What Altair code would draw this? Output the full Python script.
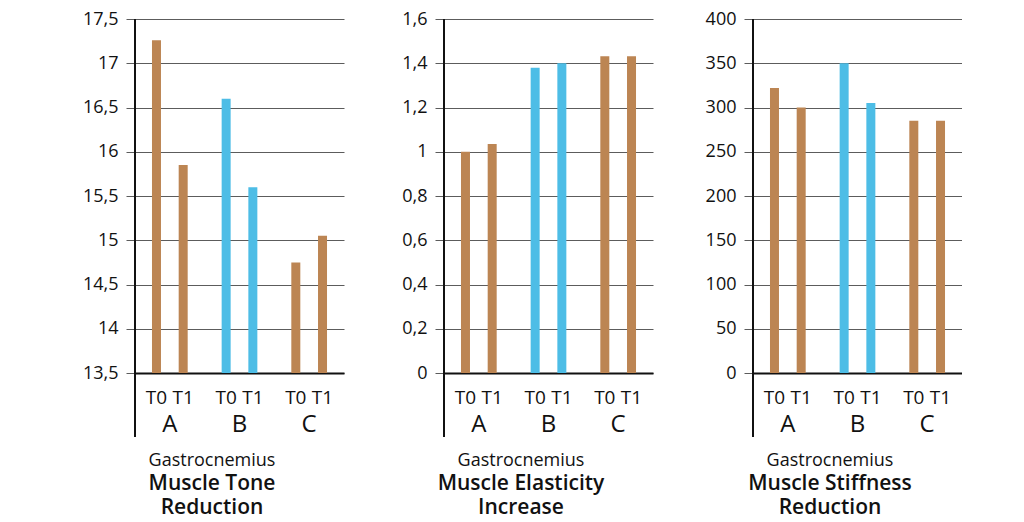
import altair as alt
import pandas as pd

# ---- data ----
groups = ["A", "A", "B", "B", "C", "C"]
times = ["T0", "T1", "T0", "T1", "T0", "T1"]
tone = [17.26, 15.85, 16.6, 15.6, 14.75, 15.05]
elasticity = [1.0, 1.035, 1.38, 1.40, 1.432, 1.432]
stiffness = [322, 300, 350, 305, 285, 285]

tone_ticks = [13.5, 14, 14.5, 15, 15.5, 16, 16.5, 17, 17.5]
elast_ticks = [0, 0.2, 0.4, 0.6, 0.8, 1.0, 1.2, 1.4, 1.6]
stiff_ticks = [0, 50, 100, 150, 200, 250, 300, 350, 400]

panel_titles = [
    ["Muscle Tone", "Reduction"],
    ["Muscle Elasticity", "Increase"],
    ["Muscle Stiffness", "Reduction"],
]
supertitle = "Gastrocnemius"

BROWN = "#BC8553"
BLUE = "#4DBDE6"
FONT = "Open Sans"
W, H = 209, 354


def panel(values, ticks, title_lines):
    df = pd.DataFrame({"group": groups, "time": times, "value": values})
    base = alt.Chart(df)
    x = alt.X(
        "group:N",
        scale=alt.Scale(paddingInner=0, paddingOuter=0),
        axis=alt.Axis(
            title=None, labelAngle=0, labelFontSize=24, labelFont=FONT,
            labelColor="#111", labelPadding=39, ticks=False,
            domain=True, domainColor="#111", domainWidth=2,
        ),
    )
    xo = alt.XOffset("time:N", scale=alt.Scale(paddingInner=0.663, paddingOuter=0.636))
    bars = base.mark_bar(clip=True).encode(
        x=x,
        xOffset=xo,
        y=alt.Y(
            "value:Q",
            scale=alt.Scale(domain=[ticks[0], ticks[-1]], zero=False, nice=False),
            axis=alt.Axis(
                title=None, values=ticks, grid=True, gridColor="#5c5c5c",
                gridWidth=1, tickColor="#5c5c5c", tickSize=9, domain=False,
                labelFontSize=18, labelFont=FONT, labelColor="#111",
                labelPadding=8, minExtent=55, maxExtent=55,
                labelExpr="replace(format(datum.value, '.1~f'), '.', ',')",
            ),
        ),
        color=alt.Color(
            "group:N",
            scale=alt.Scale(domain=["A", "B", "C"], range=[BROWN, BLUE, BROWN]),
            legend=None,
        ),
    )
    labels = base.mark_text(
        fontSize=19, font=FONT, color="#111", baseline="alphabetic", align="center"
    ).encode(
        x=alt.X("group:N"),
        xOffset=alt.XOffset("time:N"),
        y=alt.value(H + 31),
        text="time:N",
    )
    axis_line = alt.Chart(alt.Data(values=[{"k": 1}])).mark_rule(
        color="#111", strokeWidth=2
    ).encode(x=alt.value(0), y=alt.value(0), y2=alt.value(H + 64))
    return alt.layer(bars, labels, axis_line).properties(
        width=W,
        height=H,
        title=alt.TitleParams(
            text=supertitle,
            subtitle=title_lines,
            orient="bottom",
            anchor="middle",
            frame="bounds",
            font=FONT,
            fontSize=18,
            fontWeight="normal",
            color="#111",
            subtitleFont=FONT,
            subtitleFontSize=21,
            subtitleFontWeight=600,
            subtitleColor="#111",
            subtitlePadding=3,
            subtitleLineHeight=24,
            offset=14,
        ),
    )


chart = alt.hconcat(
    panel(tone, tone_ticks, panel_titles[0]),
    panel(elasticity, elast_ticks, panel_titles[1]),
    panel(stiffness, stiff_ticks, panel_titles[2]),
    spacing=45,
).properties(
    padding={"left": 72, "top": 2, "right": 0, "bottom": 0}
).configure_view(stroke=None).resolve_scale(x="independent", y="independent", color="independent")

chart.save("out.html", embed_options={"renderer": "svg", "actions": False})
